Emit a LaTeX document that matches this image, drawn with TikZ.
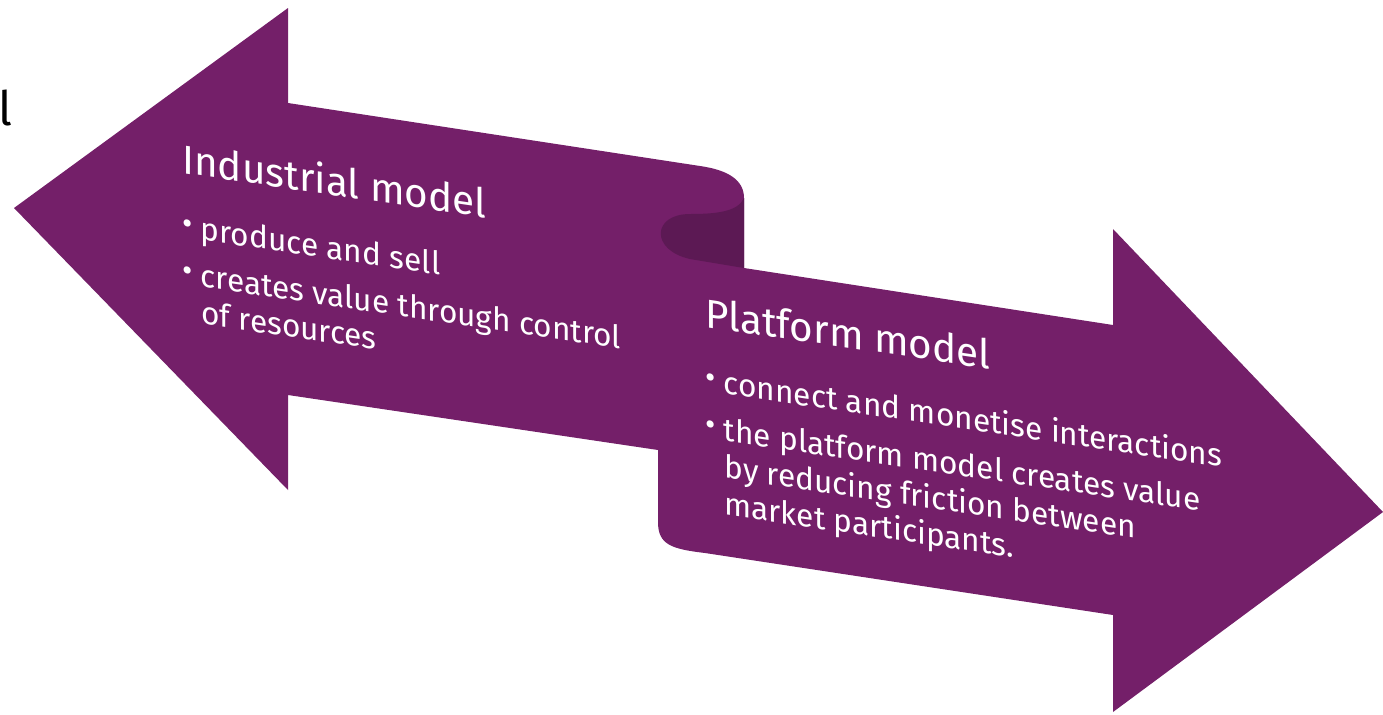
\documentclass[tikz,border=0pt]{standalone}
\usepackage{fontspec}
\setmainfont{Fira Sans}
\usetikzlibrary{positioning}
\definecolor{ribbon}{RGB}{116,31,105}
\definecolor{ribbondark}{RGB}{92,25,84}
\newcommand{\bul}{\makebox[10.5pt][l]{\raisebox{1.8pt}{\fontsize{18}{18}\selectfont\textbullet}}}
\begin{document}
\begin{tikzpicture}[x=0.02cm,y=-0.02cm,
  head/.style={text=white,inner sep=0pt,anchor=base west,font=\fontsize{23}{27}\selectfont},
  item/.style={text=white,inner sep=0pt,anchor=base west,font=\fontsize{18}{22}\selectfont}]
\useasboundingbox (0,0) rectangle (1383,714);
\fill[ribbon] (14,208) -- (288,8) -- (288,103) -- (700,166)
  .. controls (728,170) and (744,180) .. (744,198) -- (744,268)
  -- (1113,325) -- (1113,229) -- (1383,512) -- (1113,712) -- (1113,615) -- (705,553)
  .. controls (672,549) and (658,545) .. (658,522) -- (658,450) -- (288,395) -- (288,490) -- cycle;
\fill[ribbondark] (744,198) .. controls (738,212) and (715,214) .. (690,214)
  .. controls (652,214) and (650,250) .. (690,259) -- (744,268) -- cycle;
\node[inner sep=0pt,anchor=base west,font=\fontsize{27}{30}\selectfont] (L) at (-2,125) {l};
\begin{scope}[shift={(182,173)},yslant=-0.147,transform shape]
\node[head] (IM) at (0,0) {Industrial model};
\node[item] (IM1) at (0,64) {\bul produce and sell};
\node[item] (IM2) at (0,111) {\bul creates value through control};
\node[item] (IM3) at (19,148) {of resources};
\end{scope}
\begin{scope}[shift={(705,327)},yslant=-0.147,transform shape]
\node[head] (PM) at (0,0) {Platform model};
\node[item] (PM1) at (0,64) {\bul connect and monetise interactions};
\node[item] (PM2) at (0,111) {\bul the platform model creates value};
\node[item] (PM3) at (19,148) {by reducing friction between};
\node[item] (PM4) at (19,185) {market participants.};
\end{scope}
\end{tikzpicture}
\end{document}
